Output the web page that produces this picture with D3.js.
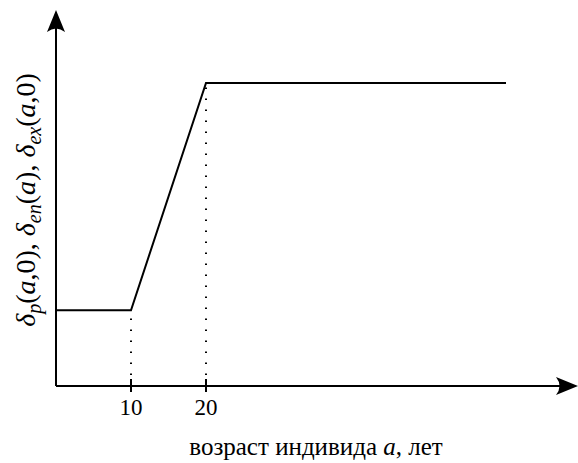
<!DOCTYPE html>
<html>
<head>
<meta charset="utf-8">
<script src="https://cdn.jsdelivr.net/npm/d3@7"></script>
<style>
  body { margin: 0; background: #fff; }
  text { font-family: "Liberation Serif", "DejaVu Serif", serif; fill: #000; }
</style>
</head>
<body>
<svg id="chart" width="578" height="463"></svg>
<script>
// Age breakpoints (years) and mortality level at each point
const ages = [0, 10, 20, 60];
const levels = [0.25, 0.25, 1, 1];
const tickAges = [10, 20];
const xTitle = "возраст индивида ";

const svg = d3.select("#chart");
const x = d3.scaleLinear().domain([0, 60]).range([56, 506]);
const y = d3.scaleLinear().domain([0, 1]).range([386, 83]);

const pts = ages.map((a, i) => [a, levels[i]]);

// Dotted guides at breakpoints
tickAges.forEach(t => {
  const i = ages.indexOf(t);
  svg.append("line")
    .attr("x1", x(t)).attr("x2", x(t))
    .attr("y1", y(0)).attr("y2", y(levels[i]))
    .attr("stroke", "#000").attr("stroke-width", 2)
    .attr("stroke-dasharray", "1.5,9.5");
});

// Axes
svg.append("line").attr("x1", x(0)).attr("x2", 570).attr("y1", y(0)).attr("y2", y(0))
  .attr("stroke", "#000").attr("stroke-width", 2);
svg.append("line").attr("x1", x(0)).attr("x2", x(0)).attr("y1", y(0)).attr("y2", 18)
  .attr("stroke", "#000").attr("stroke-width", 2);

// Arrow heads
function arrow(tx, ty, rot) {
  svg.append("path")
    .attr("d", "M0,0 L-22,-9 Q-15,0 -22,9 Z")
    .attr("transform", `translate(${tx},${ty}) rotate(${rot})`)
    .attr("fill", "#000");
}
arrow(578, y(0), 0);
arrow(x(0), 10, -90);

// Tick marks and labels
tickAges.forEach(t => {
  svg.append("line").attr("x1", x(t)).attr("x2", x(t))
    .attr("y1", y(0) - 7).attr("y2", y(0) + 6)
    .attr("stroke", "#000").attr("stroke-width", 2);
  svg.append("text").attr("x", x(t)).attr("y", 415)
    .attr("text-anchor", "middle").attr("font-size", 23).text(t);
});

// Mortality curve
svg.append("path").datum(pts)
  .attr("d", d3.line().x(d => x(d[0])).y(d => y(d[1])))
  .attr("fill", "none").attr("stroke", "#000").attr("stroke-width", 2);

// X axis title
const xt = svg.append("text").attr("x", 316).attr("y", 455)
  .attr("text-anchor", "middle").attr("font-size", 25);
xt.append("tspan").text(xTitle);
xt.append("tspan").attr("font-style", "italic").text("a");
xt.append("tspan").text(", лет");

// Y axis title built from mixed italic / upright pieces
const yParts = [
  ["δ", "i", 0], ["p", "i", 1], ["(", "n", 0], ["a", "i", 0], [",", "n", 0], ["0", "n", 0], ["), ", "n", 0],
  ["δ", "i", 0], ["en", "i", 1], ["(", "n", 0], ["a", "i", 0], ["), ", "n", 0],
  ["δ", "i", 0], ["ex", "i", 1], ["(", "n", 0], ["a", "i", 0], [",", "n", 0], ["0", "n", 0], [")", "n", 0]
];
const yt = svg.append("text")
  .attr("transform", "translate(35,200) rotate(-90)")
  .attr("text-anchor", "middle").attr("font-size", 28);
let prevSub = 0;
yParts.forEach(([s, st, sub]) => {
  const ts = yt.append("tspan").text(s)
    .attr("font-style", st === "i" ? "italic" : "normal");
  if (sub) { ts.attr("font-size", 20).attr("dy", 6); }
  else if (prevSub) { ts.attr("dy", -6); }
  prevSub = sub;
});
</script>
</body>
</html>
